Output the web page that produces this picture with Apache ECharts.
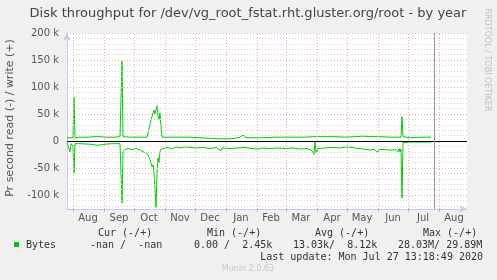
<!DOCTYPE html>
<html><head><meta charset="utf-8">
<script src="https://cdn.jsdelivr.net/npm/echarts@6/dist/echarts.min.js"></script>
<style>html,body{margin:0;padding:0;background:#f0f0f0;}#c{width:497px;height:280px;}</style>
</head><body><div id="c"></div>
<script>
// write (+) series, values in k
const writeDates = ['2019-07-26','2019-07-29','2019-08-01','2019-08-02','2019-08-03','2019-08-08','2019-08-16','2019-08-23','2019-08-28','2019-09-02','2019-09-07','2019-09-12','2019-09-17','2019-09-18','2019-09-19','2019-09-20','2019-09-27','2019-10-02','2019-10-07','2019-10-14','2019-10-15','2019-10-17','2019-10-18','2019-10-19','2019-10-20','2019-10-21','2019-10-22','2019-10-23','2019-10-24','2019-10-25','2019-10-26','2019-10-27','2019-10-28','2019-10-29','2019-11-06','2019-11-16','2019-11-26','2019-12-06','2019-12-16','2019-12-26','2020-01-03','2020-01-10','2020-01-15','2020-01-18','2020-01-21','2020-01-30','2020-02-09','2020-02-19','2020-02-29','2020-03-10','2020-03-20','2020-03-30','2020-04-09','2020-04-19','2020-04-29','2020-05-09','2020-05-17','2020-05-24','2020-06-03','2020-06-13','2020-06-21','2020-06-24','2020-06-25','2020-06-26','2020-07-03','2020-07-13','2020-07-24'];
const writeValues = [6,6,6,82,6,7,7,8,8,7,7,7,8,8,148,8,7,7,7,7,10,30,39,45,52,57,50,58,65,46,40,52,26,7,7,7,7,6,5,4,4,5,7,11,6,6,6,7,7,7,7,8,8,8,7,8,9,8,8,7,7,7,45,8,6,7,7];
// read (-) series, values in k
const readDates = ['2019-07-26','2019-07-28','2019-07-29','2019-07-30','2019-07-31','2019-08-01','2019-08-02','2019-08-03','2019-08-08','2019-08-18','2019-08-26','2019-09-02','2019-09-09','2019-09-17','2019-09-18','2019-09-19','2019-09-20','2019-09-22','2019-09-25','2019-09-29','2019-10-03','2019-10-07','2019-10-10','2019-10-13','2019-10-15','2019-10-17','2019-10-18','2019-10-19','2019-10-20','2019-10-21','2019-10-22','2019-10-23','2019-10-24','2019-10-25','2019-10-26','2019-10-27','2019-10-28','2019-10-30','2019-11-04','2019-11-08','2019-11-12','2019-11-16','2019-11-21','2019-11-26','2019-12-02','2019-12-09','2019-12-16','2019-12-22','2019-12-27','2019-12-28','2020-01-05','2020-01-13','2020-01-20','2020-01-27','2020-02-02','2020-02-07','2020-02-14','2020-02-21','2020-02-29','2020-03-08','2020-03-15','2020-03-22','2020-03-27','2020-03-29','2020-03-30','2020-03-31','2020-04-02','2020-04-09','2020-04-17','2020-04-24','2020-04-30','2020-05-06','2020-05-12','2020-05-18','2020-05-24','2020-05-28','2020-05-31','2020-06-02','2020-06-08','2020-06-13','2020-06-19','2020-06-21','2020-06-22','2020-06-23','2020-06-24','2020-06-25','2020-06-26','2020-07-03','2020-07-13','2020-07-24'];
const readValues = [-3,-4,-20,-5,-4,-10,-60,-5,-5,-6,-8,-6,-5,-5,-6,-115,-20,-16,-14,-16,-14,-16,-20,-22,-26,-35,-41,-48,-44,-60,-90,-123,-60,-31,-40,-20,-15,-13,-12,-15,-11,-13,-11,-12,-13,-12,-14,-12,-18,-13,-14,-13,-12,-14,-15,-13,-14,-13,-14,-13,-15,-14,-18,-25,-1,-22,-14,-13,-12,-13,-11,-12,-14,-15,-17,-15,-21,-16,-16,-17,-16,-20,-14,-20,-15,-106,-3,-2,-2,-2];

const axisStart = '2019-07-26';
const axisEnd = '2020-08-29';
const monthStarts = ['2019-08-01','2019-09-01','2019-10-01','2019-11-01','2019-12-01','2020-01-01','2020-02-01','2020-03-01','2020-04-01','2020-05-01','2020-06-01','2020-07-01','2020-08-01'];
const monthLabelDates = ['2019-08-16','2019-09-16','2019-10-16','2019-11-16','2019-12-16','2020-01-16','2020-02-15','2020-03-16','2020-04-16','2020-05-16','2020-06-16','2020-07-16','2020-08-16'];
const monthLabels = ['Aug','Sep','Oct','Nov','Dec','Jan','Feb','Mar','Apr','May','Jun','Jul','Aug'];
const yMajorTicks = [-100,-50,0,50,100,150,200];
const yMinorTicks = [-120,-110,-90,-80,-70,-60,-40,-30,-20,-10,10,20,30,40,60,70,80,90,110,120,130,140,160,170,180,190];
const nowTime = '2020-07-27T13:18:49';

const legendHeader = ['Cur (-/+)','Min (-/+)','Avg (-/+)','Max (-/+)'];
const legendRow = ['-nan /  -nan','0.00 /  2.45k','13.03k/  8.12k','28.03M/ 29.89M'];
const seriesName = 'Bytes';
const lastUpdate = 'Last update: Mon Jul 27 13:18:49 2020';

const T = s => Date.parse(s.length === 10 ? s + 'T00:00:00Z' : s + 'Z');
const chart = echarts.init(document.getElementById('c'), null, {renderer:'canvas'});
const labelTs = monthLabelDates.map(T);

const gridLines = [];
yMinorTicks.forEach(v => gridLines.push({yAxis: v, lineStyle: {color:'#d4d4d4', type:[1,2], width:1}}));
yMajorTicks.forEach(v => gridLines.push({yAxis: v, lineStyle: {color:'#f0a8a8', type:[1,2], width:1}}));
monthStarts.forEach(d => gridLines.push({xAxis: T(d), lineStyle: {color:'#f0a8a8', type:[1,2], width:1}}));
gridLines.push({yAxis: 0, lineStyle: {color:'#000', type:'solid', width:1}});
gridLines.push({xAxis: T(nowTime), lineStyle: {color:'#999', type:'solid', width:1}});

const mono = '10px "DejaVu Sans Mono"';
const graphics = [
  {type:'text', x:248, y:14, style:{text:'Disk throughput for /dev/vg_root_fstat.rht.gluster.org/root - by year', font:'13px "DejaVu Sans"', fill:'#444', align:'center', verticalAlign:'middle'}},
  {type:'text', x:10, y:118, rotation:Math.PI/2, style:{text:'Pr second read (-) / write (+)', font:'11px "DejaVu Sans"', fill:'#555', align:'center', verticalAlign:'middle'}},
  {type:'text', x:487, y:60, rotation:-Math.PI/2, style:{text:'RRDTOOL / TOBI OETIKER', font:'8px "DejaVu Sans"', fill:'#c0c0c0', align:'center', verticalAlign:'middle'}},
  {type:'rect', shape:{x:14, y:242, width:5, height:5}, style:{fill:'#00cc00'}},
  {type:'text', x:26, y:245, style:{text:seriesName, font:mono, fill:'#333', verticalAlign:'middle'}},
  {type:'text', x:98, y:233, style:{text:legendHeader[0], font:mono, fill:'#333', verticalAlign:'middle'}},
  {type:'text', x:207, y:233, style:{text:legendHeader[1], font:mono, fill:'#333', verticalAlign:'middle'}},
  {type:'text', x:315, y:233, style:{text:legendHeader[2], font:mono, fill:'#333', verticalAlign:'middle'}},
  {type:'text', x:423, y:233, style:{text:legendHeader[3], font:mono, fill:'#333', verticalAlign:'middle'}},
  {type:'text', x:90, y:245, style:{text:legendRow[0], font:mono, fill:'#333', verticalAlign:'middle'}},
  {type:'text', x:194, y:245, style:{text:legendRow[1], font:mono, fill:'#333', verticalAlign:'middle'}},
  {type:'text', x:293, y:245, style:{text:legendRow[2], font:mono, fill:'#333', verticalAlign:'middle'}},
  {type:'text', x:398, y:245, style:{text:legendRow[3], font:mono, fill:'#333', verticalAlign:'middle'}},
  {type:'text', x:483, y:257, style:{text:lastUpdate, font:mono, fill:'#333', align:'right', verticalAlign:'middle'}},
  {type:'text', x:248, y:269, style:{text:'Munin 2.0.63', font:'8px "DejaVu Sans"', fill:'#c8c8c8', align:'center', verticalAlign:'middle'}}
];

chart.setOption({
  animation: false,
  backgroundColor: '#f0f0f0',
  grid: {left: 67, right: 30, top: 33, bottom: 71, show: true, backgroundColor: '#fff', borderWidth: 0},
  xAxis: {
    type: 'value', min: T(axisStart), max: T(axisEnd), scale: true,
    axisLine: {onZero: false, lineStyle: {color: '#c8c8f4'}, symbol: ['none','arrow'], symbolSize: [6,8]},
    axisTick: {show: true, customValues: monthStarts.map(T), length: 3, lineStyle: {color:'#f0a0a0'}},
    splitLine: {show: false},
    axisLabel: {
      customValues: labelTs, margin: 4,
      color: '#555', fontFamily: 'DejaVu Sans', fontSize: 10,
      formatter: function (v) {
        let best = 0, bd = Infinity;
        labelTs.forEach((t, i) => { const d = Math.abs(t - v); if (d < bd) { bd = d; best = i; } });
        return monthLabels[best];
      }
    }
  },
  yAxis: {
    type: 'value', min: -126, max: 200,
    axisLine: {show: true, lineStyle: {color: '#c8c8f4'}, symbol: ['none','arrow'], symbolSize: [6,8]},
    axisTick: {show: false},
    splitLine: {show: false},
    axisLabel: {
      customValues: yMajorTicks, margin: 8,
      color: '#555', fontFamily: 'DejaVu Sans', fontSize: 10,
      formatter: v => v === 0 ? '0' : v + ' k'
    }
  },
  graphic: graphics,
  series: [
    {type: 'line', data: [], z: 1, silent: true,
     markLine: {silent: true, symbol: ['none','none'], label: {show: false}, animation: false, data: gridLines}},
    {type: 'line', z: 3, symbol: 'none', lineStyle: {color: '#00cc00', width: 1},
     data: writeDates.map((d, i) => [T(d), writeValues[i]])},
    {type: 'line', z: 3, symbol: 'none', lineStyle: {color: '#00cc00', width: 1},
     data: readDates.map((d, i) => [T(d), readValues[i]])}
  ]
});
</script></body></html>
